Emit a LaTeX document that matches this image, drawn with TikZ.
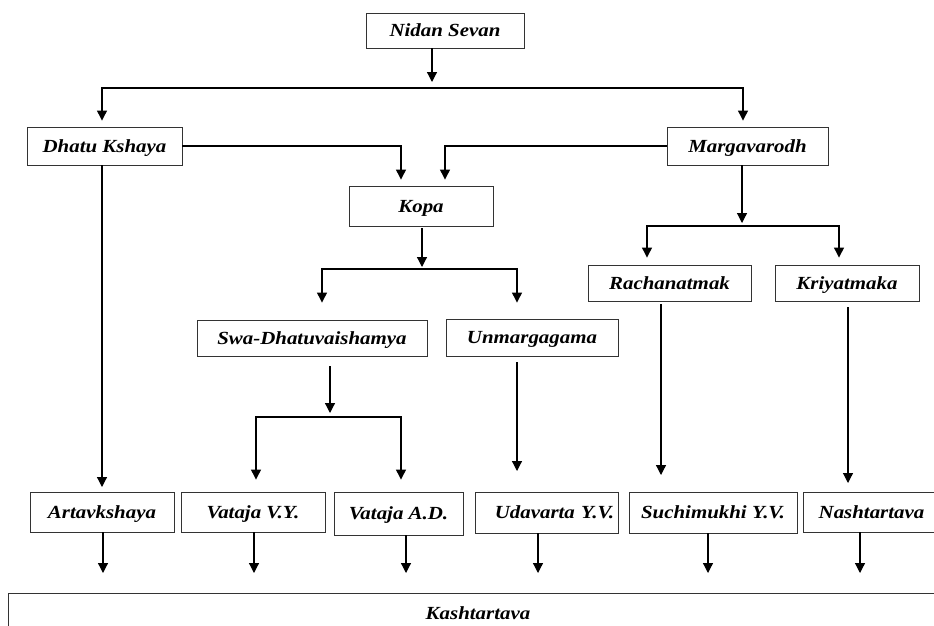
\documentclass[tikz,border=0pt]{standalone}
\usepackage{fontspec}
\setmainfont{Liberation Serif}[FakeStretch=1.13]
\usetikzlibrary{arrows.meta, positioning}

\begin{document}
\begin{tikzpicture}[x=1pt, y=-1pt, node distance=0.8cm]
\tikzstyle{stagebox} = [rectangle, draw=black!80, line width=0.9pt, text centered, inner sep=0pt, text height=13pt, text depth=1pt, font=\fontsize{18.5}{22}\selectfont\bfseries\itshape]
\tikzstyle{arrow} = [line width=1.2pt, -{Triangle[width=10pt,length=10pt]}]

\useasboundingbox (0,0) rectangle (934,625);
\clip (0,0) rectangle (934,625);

\node (nidan) [stagebox, minimum width=158, minimum height=35] at (445,30.5) {Nidan Sevan};
\node (dhatu) [stagebox, minimum width=155, minimum height=38] at (104.5,146) {Dhatu Kshaya};
\node (marga) [stagebox, minimum width=161, minimum height=38] at (747.5,146) {Margavarodh};
\node (kopa) [stagebox, minimum width=144, minimum height=40] at (421,206) {Kopa};
\node (rachana) [stagebox, minimum width=163, minimum height=36] at (669.5,283) {Rachanatmak};
\node (kriya) [stagebox, minimum width=144, minimum height=36] at (847,283) {Kriyatmaka};
\node (swa) [stagebox, minimum width=230, minimum height=36] at (312,338) {Swa-Dhatuvaishamya};
\node (unmarga) [stagebox, minimum width=172, minimum height=37] at (532,337.5) {Unmargagama};

\node (artav) [stagebox, minimum width=144, minimum height=40] at (102,512) {Artavkshaya};
\node (vatvy) [stagebox, minimum width=144, minimum height=40] at (253,512) {Vataja V.Y.};
\node (vatad) [stagebox, minimum width=129, minimum height=43] at (398.5,513.5) {Vataja A.D.};
\node (udav) [stagebox, minimum width=143, minimum height=41, text width=135, align=right] at (546.5,512.5) {Udavarta Y.V.};
\node (suchi) [stagebox, minimum width=168, minimum height=41] at (713,512.5) {Suchimukhi Y.V.};
\node (nasht) [stagebox, minimum width=137, minimum height=40] at (871.5,512) {Nashtartava};
\node (kasht) [stagebox, minimum width=940, minimum height=40, anchor=north] at (478,593) {Kashtartava};

\coordinate (nidanend) at (432,82);
\coordinate (splitA) at (445,88);
\coordinate (kopaend) at (422,267);
\coordinate (splitB) at (422,269);
\coordinate (margaend) at (742,223);
\coordinate (splitC) at (742,226);
\coordinate (swaend) at (330,413);
\coordinate (splitD) at (330,417);
\coordinate (udavend) at (517,471);
\coordinate (suchiend) at (661,475);
\coordinate (nashtend) at (848,483);
\coordinate (artavend) at (102,487);

\draw[arrow] (nidan.south -| nidanend) -- (nidanend);
\draw[arrow] (splitA) -| ([xshift=-2.5pt,yshift=6pt]dhatu.north);
\draw[arrow] (splitA) -| ([xshift=-4.5pt,yshift=6pt]marga.north);

\draw[arrow] (dhatu.east) -| ([xshift=-20pt,yshift=6pt]kopa.north);
\draw[arrow] (marga.west) -| ([xshift=24pt,yshift=6pt]kopa.north);

\draw[arrow, shorten <=2pt] (kopa.south -| kopaend) -- (kopaend);
\draw[arrow] (splitB) -| ([xshift=10pt,yshift=17pt]swa.north);
\draw[arrow] (splitB) -| ([xshift=-15pt,yshift=16pt]unmarga.north);

\draw[arrow] (marga.south -| margaend) -- (margaend);
\draw[arrow] (splitC) -| ([xshift=-22.5pt,yshift=7pt]rachana.north);
\draw[arrow] (splitC) -| ([xshift=-8pt,yshift=7pt]kriya.north);

\draw[arrow, shorten <=10pt] (swa.south -| swaend) -- (swaend);
\draw[arrow] (splitD) -| ([xshift=3pt,yshift=12pt]vatvy.north);
\draw[arrow] (splitD) -| ([xshift=2.5pt,yshift=12pt]vatad.north);

\draw[arrow] (dhatu.south -| artavend) -- (artavend);
\draw[arrow, shorten <=6pt] (unmarga.south -| udavend) -- (udavend);
\draw[arrow, shorten <=3pt] (rachana.south -| suchiend) -- (suchiend);
\draw[arrow, shorten <=6pt] (kriya.south -| nashtend) -- (nashtend);

\foreach \src/\xpos in {artav/103, vatvy/254, vatad/406, udav/538, suchi/708, nasht/860}
  \draw[arrow, shorten >=20pt] (\src.south -| \xpos,0) -- (kasht.north -| \xpos,0);

\end{tikzpicture}
\end{document}
